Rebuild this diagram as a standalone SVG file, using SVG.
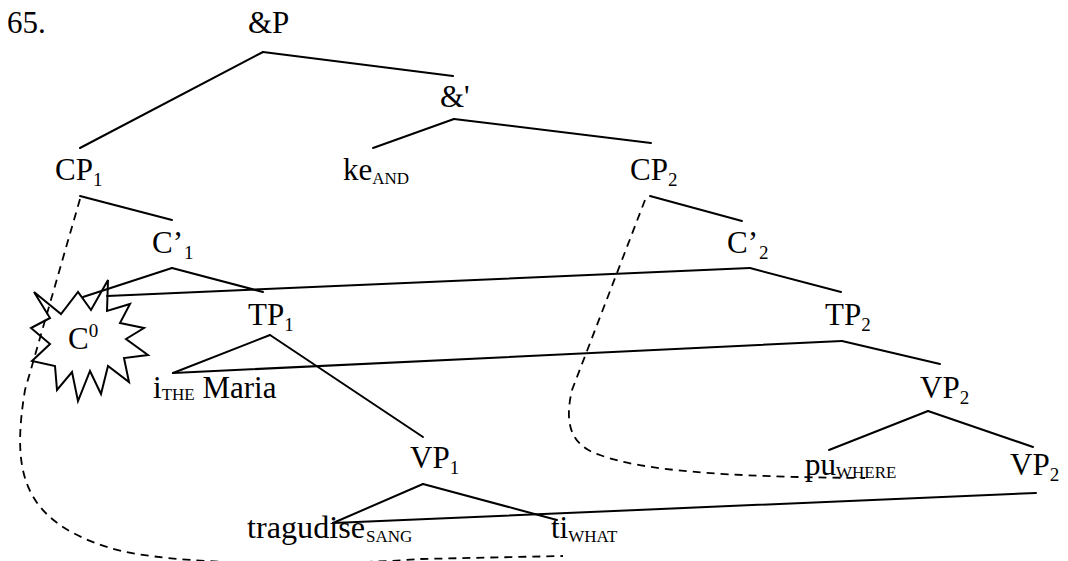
<svg xmlns="http://www.w3.org/2000/svg" width="1068" height="561" viewBox="0 0 1068 561">
<style>
text{font-family:"Liberation Serif","Times New Roman",serif;font-size:31px;fill:#000}
.sn{font-size:19px}
.sc{font-size:17px}
.e{stroke:#000;stroke-width:2;fill:none;stroke-linecap:round}
.d{stroke:#000;stroke-width:1.8;fill:none;stroke-dasharray:8 6}
</style>
<rect width="1068" height="561" fill="#fff"/>
<text x="7" y="33">65.</text>
<g id="connectors">
<line class="e" x1="263" y1="52" x2="80" y2="148"/>
<line class="e" x1="263" y1="52" x2="453" y2="76"/>
<line class="e" x1="454" y1="119" x2="373" y2="148"/>
<line class="e" x1="454" y1="119" x2="651" y2="143"/>
<line class="e" x1="80" y1="196" x2="172" y2="220"/>
<line class="e" x1="650" y1="196" x2="742" y2="221"/>
<line class="e" x1="172" y1="268" x2="83" y2="297"/>
<line class="e" x1="172" y1="268" x2="263" y2="292"/>
<line class="e" x1="750" y1="268" x2="107" y2="296"/>
<line class="e" x1="750" y1="268" x2="841" y2="292"/>
<line class="e" x1="270" y1="335" x2="173" y2="373"/>
<line class="e" x1="270" y1="335" x2="423" y2="437"/>
<line class="e" x1="842" y1="341" x2="173" y2="373"/>
<line class="e" x1="842" y1="341" x2="940" y2="364"/>
<line class="e" x1="928" y1="411" x2="829" y2="450"/>
<line class="e" x1="928" y1="411" x2="1033" y2="447"/>
<line class="e" x1="423" y1="484" x2="333" y2="523"/>
<line class="e" x1="423" y1="484" x2="557" y2="520"/>
<line class="e" x1="1036" y1="493" x2="333" y2="523"/>
<path class="d" d="M80,199 L25,390 C12,470 20,520 110,548 C170,566 330,566 420,559 L563,556"/>
<path class="d" d="M645,200 L572,390 C565,420 568,445 600,455 C640,470 720,477 865,478"/>
</g>
<g id="andP"><text x="248" y="33">&amp;P</text></g>
<g id="andBar"><text x="440" y="107">&amp;'</text></g>
<g id="CP1"><text x="55" y="180">CP<tspan class="sn" dy="6">1</tspan></text></g>
<g id="keAND"><text x="343" y="180">ke<tspan class="sc" dy="4">AND</tspan></text></g>
<g id="CP2"><text x="630" y="180">CP<tspan class="sn" dy="6">2</tspan></text></g>
<g id="C1bar"><text x="152" y="253">C’<tspan class="sn" dx="1" dy="6">1</tspan></text></g>
<g id="C2bar"><text x="727" y="253">C’<tspan class="sn" dx="1" dy="6">2</tspan></text></g>
<g id="C0">
<polygon points="34,292 61,314 78,292 91,310 108,280 107,311 130,304 120,323 144,328 126,339 148,355 124,358 129,382 108,366 101,394 90,371 78,401 72,372 57,390 55,366 32,361 50,344 31,328 50,318" fill="none" stroke="#000" stroke-width="2" stroke-linejoin="miter"/>
<text x="68" y="349">C<tspan class="sn" dy="-12">0</tspan></text>
</g>
<g id="TP1"><text x="248" y="325">TP<tspan class="sn" dy="6">1</tspan></text></g>
<g id="TP2"><text x="825" y="325">TP<tspan class="sn" dy="6">2</tspan></text></g>
<g id="Maria"><text x="153" y="398">i<tspan class="sc" dy="2">THE</tspan><tspan dy="-2"> Maria</tspan></text></g>
<g id="VP2a"><text x="920" y="398">VP<tspan class="sn" dy="6">2</tspan></text></g>
<g id="VP1"><text x="410" y="468">VP<tspan class="sn" dy="6">1</tspan></text></g>
<g id="puWHERE"><text x="805" y="475">pu<tspan class="sc" dy="3">WHERE</tspan></text></g>
<g id="VP2b"><text x="1010" y="475">VP<tspan class="sn" dy="6">2</tspan></text></g>
<g id="tragudise"><text x="247" y="538" textLength="118" lengthAdjust="spacingAndGlyphs">tragudise</text><text x="366" y="542" class="sc">SANG</text></g>
<g id="tiWHAT"><text x="551" y="538">ti<tspan class="sc" dy="4">WHAT</tspan></text></g>
</svg>
